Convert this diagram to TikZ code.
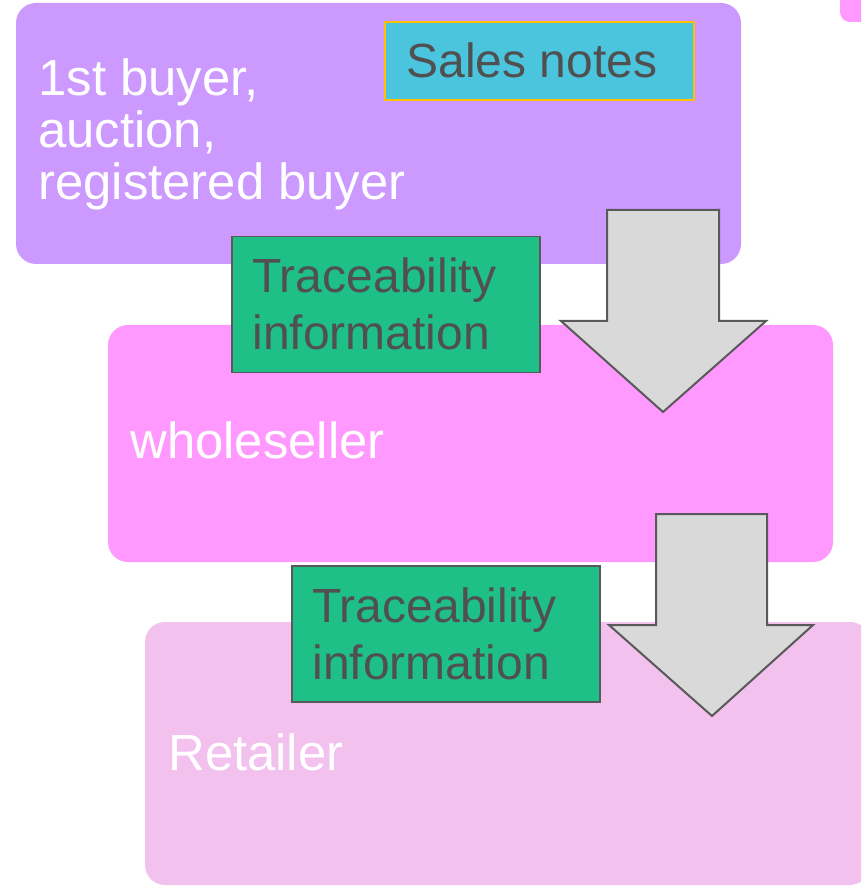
\documentclass[tikz,border=0pt]{standalone}
\usepackage{fontspec}
\setmainfont{Liberation Sans}
\usepackage{tikz}
\definecolor{buyerFill}{RGB}{204, 153, 255}
\definecolor{wholeFill}{RGB}{255, 153, 255}
\definecolor{retailFill}{RGB}{242, 193, 238}
\definecolor{notesFill}{RGB}{75, 197, 221}
\definecolor{notesLine}{RGB}{255, 192, 0}
\definecolor{traceFill}{RGB}{31, 191, 136}
\definecolor{arrowFill}{RGB}{217, 217, 217}
\definecolor{edgeColor}{RGB}{89, 89, 89}
\definecolor{darkText}{RGB}{80, 80, 80}

\begin{document}
\begin{tikzpicture}[x=0.5pt, y=-0.5pt,
    stage/.style={rounded corners=10pt, inner sep=0pt, minimum width=362.5pt},
    infobox/.style={draw=edgeColor, line width=0.9pt, fill=traceFill, inner sep=0pt, minimum width=154pt, minimum height=68pt},
    bigtext/.style={inner sep=0pt, anchor=base west, align=left, text=white, font=\fontsize{25.4}{26}\selectfont},
    boxtext/.style={bigtext, text=darkText, font=\fontsize{24}{28.5}\selectfont},
    flowarrow/.style={draw=edgeColor, line width=1pt, fill=arrowFill, line join=miter}]
    \clip (0,0) rectangle (861,886);

    % stages of the chain
    \node[stage, fill=buyerFill, minimum height=130.5pt] (buyer) at (378.5,133.5) {};
    \node[stage, fill=wholeFill, rounded corners=5pt, minimum width=30pt, minimum height=31pt] (corner) at (870,-9) {};
    \node[stage, fill=wholeFill, minimum height=118.5pt] (whole) at (470.5,443.5) {};
    \node[stage, fill=retailFill, minimum height=131.5pt] (retail) at (507.5,753.5) {};

    % base anchor = last line
    \node[bigtext] (buyertext) at (38,200) {1st buyer,\\auction,\\registered buyer};
    \node[bigtext] (wholetext) at (130,458) {wholeseller};
    \node[bigtext] (retailtext) at (168,770) {Retailer};

    % sales notes
    \node[draw=notesLine, line width=1pt, fill=notesFill, inner sep=0pt, minimum width=154.5pt, minimum height=39pt] (notes) at (539.5,61) {};
    \node[boxtext] (notestext) at (406,78) {Sales notes};

    % flow arrows
    \draw[flowarrow] (607,210) -- (719,210) -- (719,321) -- (766,321) -- (663,412) -- (561,321) -- (607,321) -- cycle;
    \draw[flowarrow] (656,514) -- (767,514) -- (767,625) -- (813,625) -- (712,716) -- (609,625) -- (656,625) -- cycle;

    % traceability information
    \node[infobox] (trace1) at (386,304.5) {};
    \node[boxtext] (trace1text) at (252,350) {Traceability\\information};
    \node[infobox] (trace2) at (446,634) {};
    \node[boxtext] (trace2text) at (312,679) {Traceability\\information};
\end{tikzpicture}
\end{document}
